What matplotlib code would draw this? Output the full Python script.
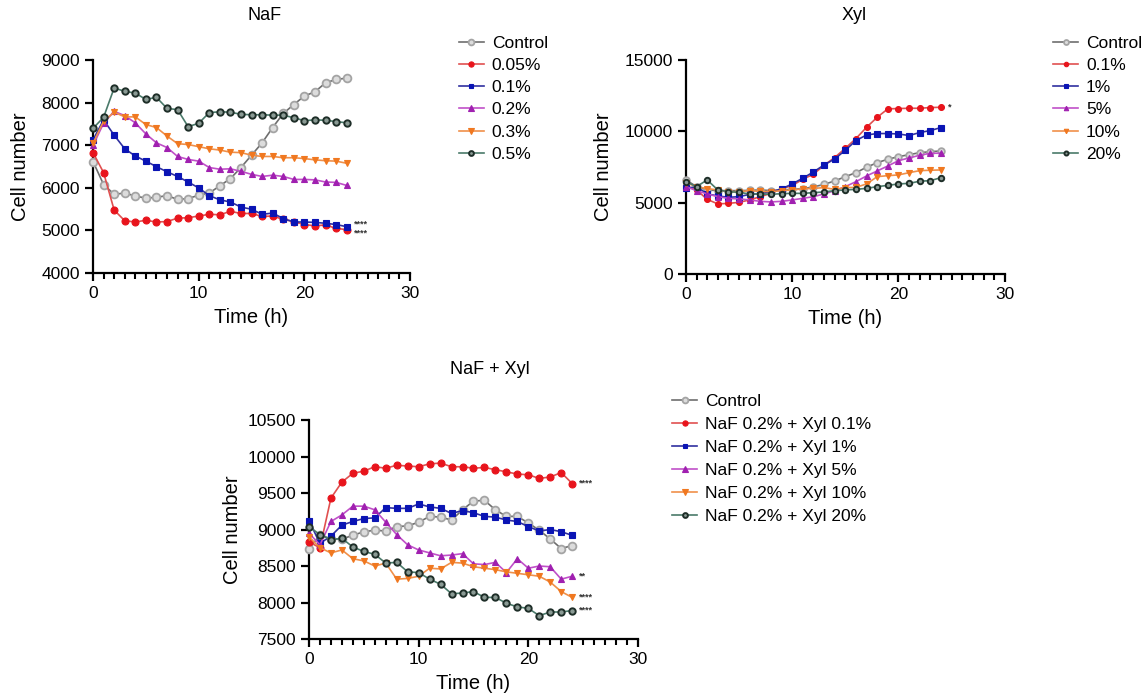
import matplotlib
matplotlib.use("Agg")
import matplotlib.pyplot as plt
from matplotlib.ticker import MultipleLocator

plt.rcParams['font.family'] = ['Liberation Sans', 'DejaVu Sans']

hours = list(range(25))

# NaF panel
naf_labels = ["Control", "0.05%", "0.1%", "0.2%", "0.3%", "0.5%"]
naf_control = [6620, 6080, 5850, 5880, 5810, 5760, 5780, 5820, 5730, 5750, 5830, 5880, 6050,
               6220, 6480, 6770, 7060, 7420, 7750, 7960, 8160, 8260, 8470, 8550, 8580]
naf_005 = [6830, 6360, 5480, 5230, 5200, 5240, 5200, 5210, 5290, 5300, 5340, 5380, 5370,
           5450, 5400, 5400, 5330, 5340, 5260, 5210, 5140, 5110, 5130, 5050, 5020]
naf_01 = [7130, 7600, 7240, 6920, 6750, 6630, 6500, 6380, 6270, 6140, 6000, 5820, 5720,
          5670, 5550, 5500, 5380, 5410, 5280, 5200, 5200, 5190, 5170, 5140, 5090]
naf_02 = [7000, 7520, 7800, 7700, 7530, 7270, 7060, 6950, 6740, 6670, 6630, 6480, 6440,
          6450, 6390, 6320, 6270, 6300, 6270, 6200, 6200, 6190, 6140, 6130, 6060]
naf_03 = [7050, 7570, 7780, 7670, 7670, 7490, 7420, 7220, 7040, 7020, 6970, 6920, 6890,
          6840, 6830, 6770, 6740, 6740, 6710, 6710, 6690, 6660, 6640, 6630, 6580]
naf_05 = [7400, 7660, 8350, 8270, 8230, 8080, 8130, 7870, 7840, 7440, 7520, 7770, 7790,
          7780, 7730, 7720, 7720, 7710, 7710, 7650, 7580, 7600, 7590, 7560, 7530]
naf_stars = {"0.1%": "****", "0.05%": "****"}

# Xyl panel
xyl_labels = ["Control", "0.1%", "1%", "5%", "10%", "20%"]
xyl_control = [6590, 6120, 5890, 5840, 5840, 5840, 5860, 5890, 5840, 5890, 5930, 5980, 6100,
               6280, 6520, 6820, 7100, 7480, 7800, 8040, 8220, 8360, 8500, 8570, 8620]
xyl_01 = [6170, 5890, 5230, 4910, 4950, 5020, 5190, 5420, 5650, 5980, 6190, 6640, 6990,
          7620, 8160, 8810, 9490, 10280, 10980, 11570, 11590, 11610, 11610, 11660, 11680]
xyl_1 = [6000, 6120, 5610, 5470, 5370, 5420, 5580, 5630, 5750, 5960, 6310, 6710, 7150,
         7640, 8060, 8670, 9350, 9740, 9840, 9840, 9810, 9700, 9910, 10050, 10260]
xyl_5 = [6120, 5840, 5610, 5420, 5300, 5260, 5190, 5090, 5050, 5090, 5190, 5300, 5420,
         5610, 5840, 6120, 6470, 6870, 7220, 7570, 7940, 8130, 8320, 8460, 8460]
xyl_10 = [6400, 6120, 5980, 5890, 5770, 5770, 5840, 5790, 5770, 5840, 5890, 5960, 6000,
          6050, 5930, 6050, 6070, 6310, 6820, 6890, 6940, 7100, 7240, 7270, 7290]
xyl_20 = [6470, 6120, 6590, 5890, 5770, 5720, 5610, 5610, 5580, 5630, 5650, 5650, 5700,
          5750, 5840, 5890, 5930, 6000, 6120, 6210, 6310, 6350, 6500, 6540, 6750]
xyl_stars = {"0.1%": "*"}

# NaF + Xyl panel
mix_labels = ["Control", "NaF 0.2% + Xyl 0.1%", "NaF 0.2% + Xyl 1%", "NaF 0.2% + Xyl 5%",
              "NaF 0.2% + Xyl 10%", "NaF 0.2% + Xyl 20%"]
mix_control = [8730, 8930, 8870, 8870, 8920, 8970, 8990, 8980, 9040, 9050, 9100, 9180, 9170,
               9130, 9270, 9390, 9400, 9270, 9180, 9180, 9090, 8990, 8870, 8740, 8780]
mix_01 = [8830, 8750, 9430, 9650, 9770, 9800, 9860, 9840, 9880, 9870, 9860, 9900, 9910,
          9860, 9860, 9840, 9850, 9820, 9790, 9760, 9750, 9700, 9720, 9780, 9630]
mix_1 = [9120, 8810, 8910, 9060, 9110, 9150, 9160, 9300, 9290, 9290, 9350, 9310, 9290,
         9220, 9260, 9230, 9180, 9170, 9130, 9110, 9040, 8980, 9000, 8970, 8920]
mix_5 = [8950, 8790, 9110, 9200, 9320, 9320, 9270, 9100, 8930, 8790, 8720, 8680, 8640,
         8650, 8670, 8530, 8520, 8550, 8410, 8600, 8470, 8500, 8490, 8320, 8360]
mix_10 = [8900, 8750, 8680, 8720, 8600, 8570, 8500, 8540, 8320, 8330, 8360, 8470, 8460,
          8550, 8540, 8490, 8470, 8450, 8420, 8400, 8380, 8360, 8280, 8150, 8070]
mix_20 = [9040, 8930, 8860, 8880, 8760, 8700, 8660, 8540, 8550, 8420, 8410, 8320, 8250,
          8120, 8130, 8150, 8070, 8070, 7990, 7940, 7920, 7820, 7870, 7870, 7890]
mix_stars = {mix_labels[1]: "****", mix_labels[3]: "**", mix_labels[4]: "****", mix_labels[5]: "****"}

# style for each of the six series (same order in every panel)
STYLES = [
    dict(color="#6e6e6e", marker="o", mfc="#dcdcdc", mec="#a4a4a4", ms=5.6, mew=1.3),
    dict(color="#e05050", marker="o", mfc="#e8141c", mec="#e8141c", ms=5.0, mew=0.8),
    dict(color="#3030a0", marker="s", mfc="#0a14b4", mec="#0a14b4", ms=4.4, mew=0.8),
    dict(color="#c050c8", marker="^", mfc="#a020b0", mec="#a020b0", ms=5.0, mew=0.8),
    dict(color="#f0904a", marker="v", mfc="#f07820", mec="#f07820", ms=5.0, mew=0.8),
    dict(color="#4a7a6a", marker="o", mfc="#8a9a94", mec="#1e2e28", ms=4.6, mew=1.4),
]


def draw_panel(ax, labels, series, stars, ylim, ystep, ylabelpad, msscale=1.0):
    for label, values, st in zip(labels, series, STYLES):
        ax.plot(hours, values, label=label, color=st["color"], lw=1.2,
                marker=st["marker"], markerfacecolor=st["mfc"], markeredgecolor=st["mec"],
                markersize=st["ms"] * msscale, markeredgewidth=st["mew"], clip_on=False, zorder=3)
    # significance marks next to the last point
    for label, values in zip(labels, series):
        if label in stars:
            ax.annotate(stars[label][0], (24, values[-1]), xytext=(5, stars[label][1]),
                        textcoords="offset points", fontsize=6.5, fontweight="bold",
                        ha="left", va="center", color="#333333")
    ax.set_xlim(0, 30)
    ax.set_ylim(*ylim)
    ax.yaxis.set_major_locator(MultipleLocator(ystep))
    for side in ["top", "right"]:
        ax.spines[side].set_visible(False)
    for side in ["left", "bottom"]:
        ax.spines[side].set_linewidth(1.6)
    ax.set_ylabel("Cell number", fontsize=14.5, labelpad=ylabelpad)
    ax.set_xlabel("Time (h)", fontsize=14.5, labelpad=5)


fig = plt.figure(figsize=(11.47, 6.93), dpi=100)
leg_kw = dict(frameon=False, fontsize=12.5, handlelength=1.45, handletextpad=0.45,
              borderaxespad=0, borderpad=0, markerscale=0.75)

ax1 = fig.add_axes([0.0811, 0.606, 0.2764, 0.307])
draw_panel(ax1, naf_labels, [naf_control, naf_005, naf_01, naf_02, naf_03, naf_05],
           {k: (v, 2 if k == "0.1%" else -2.5) for k, v in naf_stars.items()},
           (4000, 9000), 1000, 8)
ax1.legend(loc="upper left", bbox_to_anchor=(0.400, 0.948), bbox_transform=fig.transFigure,
           labelspacing=0.4, **leg_kw)
fig.text(0.231, 0.978, "NaF", fontsize=13, ha="center", va="center")

ax2 = fig.add_axes([0.598, 0.6046, 0.278, 0.309])
draw_panel(ax2, xyl_labels, [xyl_control, xyl_01, xyl_1, xyl_5, xyl_10, xyl_20],
           {k: (v, 0) for k, v in xyl_stars.items()}, (0, 15000), 5000, 8, msscale=0.85)
ax2.legend(loc="upper left", bbox_to_anchor=(0.918, 0.948), bbox_transform=fig.transFigure,
           labelspacing=0.4, **leg_kw)
fig.text(0.745, 0.978, "Xyl", fontsize=13, ha="center", va="center")

ax3 = fig.add_axes([0.2694, 0.0779, 0.2868, 0.316])
draw_panel(ax3, mix_labels, [mix_control, mix_01, mix_1, mix_5, mix_10, mix_20],
           {k: (v, 0) for k, v in mix_stars.items()}, (7500, 10500), 500, 4)
ax3.legend(loc="upper left", bbox_to_anchor=(0.586, 0.432), bbox_transform=fig.transFigure,
           labelspacing=0.45, **leg_kw)
fig.text(0.427, 0.467, "NaF + Xyl", fontsize=13, ha="center", va="center")

# x ticks: major every 10 h, minor every hour
for ax in (ax1, ax2, ax3):
    ax.xaxis.set_major_locator(MultipleLocator(10))
    ax.xaxis.set_minor_locator(MultipleLocator(1))
    ax.tick_params(axis="both", which="major", length=6, width=1.6, labelsize=12.5, pad=3.5)
    ax.tick_params(axis="x", which="minor", bottom=True, length=4.5, width=1.5)

fig.savefig("out.png", dpi=100)
